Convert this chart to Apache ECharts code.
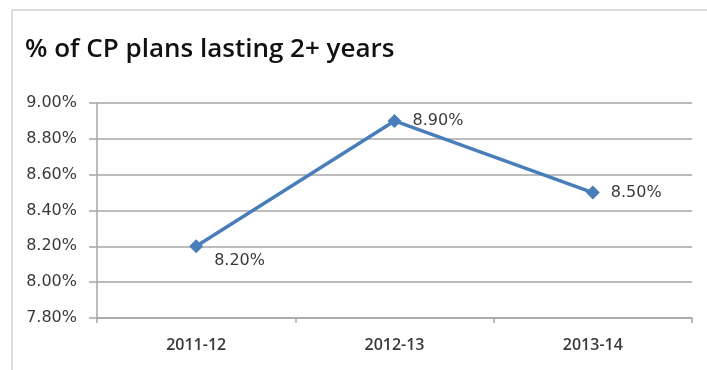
<!DOCTYPE html>
<html>
<head>
<meta charset="utf-8">
<script src="https://cdn.jsdelivr.net/npm/echarts@6/dist/echarts.min.js"></script>
<style>
  html, body { margin: 0; padding: 0; background: #fff; }
  #chart { width: 707px; height: 370px; }
</style>
</head>
<body>
<div id="chart"></div>
<script>
// data
const years = ['2011-12', '2012-13', '2013-14'];
const planShare = [8.20, 8.90, 8.50];
const yTicks = [7.80, 8.00, 8.20, 8.40, 8.60, 8.80, 9.00];

const chart = echarts.init(document.getElementById('chart'));

const gridLine = '#a6a6a6';
const textGrey = '#3a3a3a';

const option = {
  animation: false,
  backgroundColor: '#fff',
  title: {
    text: '% of CP plans lasting 2+ years',
    left: 20,
    top: 32,
    textStyle: {
      fontFamily: 'Open Sans',
      fontWeight: 600,
      fontSize: 26,
      color: '#111'
    }
  },
  graphic: [
    { type: 'line', shape: { x1: 12, y1: 10, x2: 707, y2: 10 }, style: { stroke: '#d0d0d0', lineWidth: 1.5 } },
    { type: 'line', shape: { x1: 12, y1: 10, x2: 12, y2: 370 }, style: { stroke: '#d0d0d0', lineWidth: 1.5 } }
  ],
  grid: {
    left: 97,
    right: 15,
    top: 103,
    bottom: 52
  },
  xAxis: {
    type: 'category',
    data: years,
    boundaryGap: true,
    axisLine: { lineStyle: { color: gridLine, width: 1.5 } },
    axisTick: { show: true, length: 5, lineStyle: { color: gridLine, width: 1.5 } },
    axisLabel: {
      margin: 19,
      fontFamily: 'Open Sans',
      fontWeight: 600,
      fontSize: 16,
      color: textGrey
    }
  },
  yAxis: {
    type: 'value',
    min: yTicks[0],
    max: yTicks[yTicks.length - 1],
    interval: 0.2,
    axisLine: { show: true, lineStyle: { color: gridLine, width: 1.5 } },
    axisTick: { show: true, length: 8, lineStyle: { color: gridLine, width: 1.5 } },
    splitLine: { lineStyle: { color: gridLine, width: 1.5 } },
    axisLabel: {
      margin: 20,
      fontFamily: 'DejaVu Sans',
      fontSize: 16,
      color: textGrey,
      formatter: function (v) { return v.toFixed(2) + '%'; }
    }
  },
  series: [{
    type: 'line',
    data: planShare.map(function (v, i) {
      const item = { value: v };
      if (i === 0) item.label = { offset: [0, 15] };
      return item;
    }),
    symbol: 'diamond',
    symbolSize: 14,
    lineStyle: { color: '#4a7ebb', width: 3.5 },
    itemStyle: { color: '#4a7ebb' },
    label: {
      show: true,
      position: 'right',
      distance: 11,
      fontFamily: 'DejaVu Sans',
      fontSize: 16,
      color: textGrey,
      formatter: function (p) { return p.value.toFixed(2) + '%'; }
    }
  }]
};

chart.setOption(option);
</script>
</body>
</html>
